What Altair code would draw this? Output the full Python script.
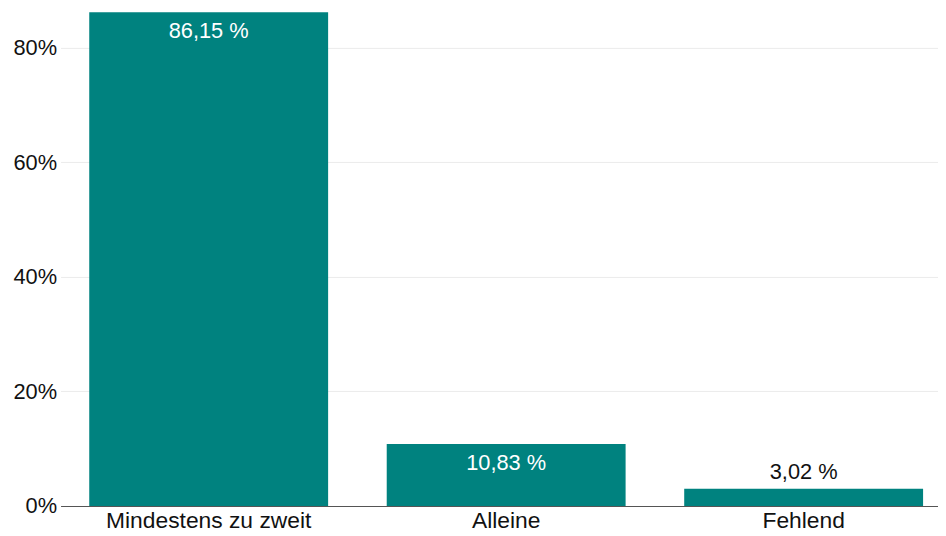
import altair as alt
import pandas as pd

categories = ["Mindestens zu zweit", "Alleine", "Fehlend"]
values = [0.8615, 0.1083, 0.0302]
labels = ["86,15 %", "10,83 %", "3,02 %"]

df = pd.DataFrame({"cat": categories, "val": values, "lab": labels})

TEAL = "#00827F"
FONT = "Liberation Sans"

x = alt.X("cat:N", sort=categories, title=None,
          scale=alt.Scale(paddingInner=0.197, paddingOuter=0.0733, align=0.658),
          axis=alt.Axis(labelAngle=0, labelFontSize=23, labelFont=FONT, labelColor="#111",
                        ticks=False, domainColor="#555", domainWidth=1.2, labelPadding=4,
                        labelLimit=400, grid=False))
y = alt.Y("val:Q", title=None,
          scale=alt.Scale(domain=[0, 0.8615], nice=False, zero=True),
          axis=alt.Axis(values=[0, 0.2, 0.4, 0.6, 0.8], format=".0%", labelFontSize=22,
                        labelFont=FONT, labelColor="#111", domain=False, ticks=False,
                        gridColor="#ebebeb", labelPadding=4))

bars = alt.Chart(df).mark_bar(color=TEAL).encode(x=x, y=y)

inside = alt.Chart(df).transform_filter("datum.val > 0.05").mark_text(
    baseline="middle", dy=19, fontSize=22, font=FONT, color="white"
).encode(x=alt.X("cat:N", sort=categories), y="val:Q", text="lab:N")

outside = alt.Chart(df).transform_filter("datum.val <= 0.05").mark_text(
    baseline="middle", dy=-17, fontSize=22, font=FONT, color="#111"
).encode(x=alt.X("cat:N", sort=categories), y="val:Q", text="lab:N")

chart = (bars + inside + outside).properties(
    width=885, height=498,
    autosize=alt.AutoSizeParams(type="none"),
    padding={"left": 53, "top": 2, "right": 0, "bottom": 26},
).configure_view(stroke=None)

chart.save("out.html", embed_options={"renderer": "svg", "actions": False})
